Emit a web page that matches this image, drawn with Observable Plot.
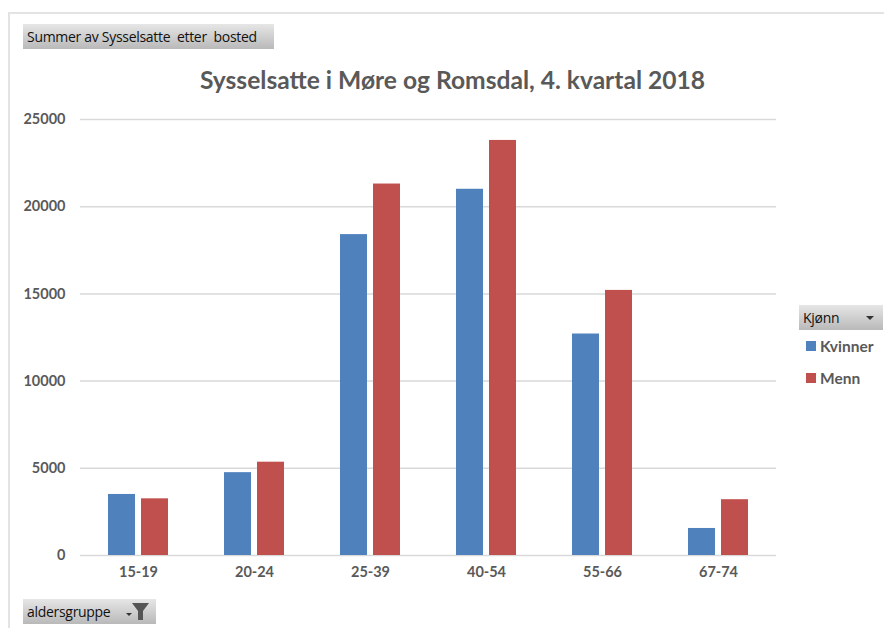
<!DOCTYPE html>
<html><head><meta charset="utf-8">
<script src="https://cdn.jsdelivr.net/npm/d3@7"></script>
<script src="https://cdn.jsdelivr.net/npm/@observablehq/plot@0.6"></script>
<style>
html,body{margin:0;padding:0;background:#fff;}
#wrap{position:relative;width:884px;height:628px;overflow:hidden;font-family:Lato,"Open Sans",sans-serif;}
#frameT{position:absolute;left:8px;top:12px;width:876px;height:2px;background:#e3e3e3;}
#frameL{position:absolute;left:8px;top:12px;width:2px;height:616px;background:#e3e3e3;}
#chart{position:absolute;left:0;top:0;}
.btn{position:absolute;height:25px;line-height:25px;background:linear-gradient(#e6e6e6,#b9b9b9);color:#111;font-family:"Open Sans",sans-serif;font-size:14px;padding-left:4px;box-sizing:border-box;white-space:nowrap;letter-spacing:-0.3px;}
h1{position:absolute;margin:0;left:0;top:65px;width:905px;text-align:center;font:700 24.6px/30px Lato,sans-serif;color:#595959;}
.leg{position:absolute;left:806px;font:700 15.5px/18px Lato,sans-serif;color:#595959;padding-left:14px;}
.sw{position:absolute;left:0;top:4px;width:10px;height:10px;}
.caret{position:absolute;width:0;height:0;border-left:4px solid transparent;border-right:4px solid transparent;border-top:4px solid #333;}
</style></head><body>
<div id="wrap">
<div id="chart"></div>
<div id="frameT"></div><div id="frameL"></div>
<h1 id="title"></h1>
<div class="btn" style="left:23px;top:24px;width:251px;">Summer av Sysselsatte&nbsp; etter&nbsp; bosted</div>
<div class="btn" style="left:23px;top:599px;width:133px;">aldersgruppe
<span class="caret" style="left:103px;top:14px;border-width:3px 3px 0 3px;"></span>
<svg style="position:absolute;left:109px;top:4px" width="18" height="17" viewBox="0 0 18 17"><path d="M0 0H17L11 8V17H6V8Z" fill="#555"/></svg></div>
<div class="btn" style="left:799px;top:305px;width:84px;">Kjønn<span class="caret" style="left:67px;top:11px;"></span></div>
<div id="legend"></div>
</div>
<script>
const titleText = "Sysselsatte i Møre og Romsdal, 4. kvartal 2018";
const ageGroups = ["15-19","20-24","25-39","40-54","55-66","67-74"];
const genders = ["Kvinner","Menn"];
const kvinner = [3500,4750,18400,21000,12700,1550];
const menn = [3250,5350,21300,23800,15200,3200];
const colors = ["#4f81bd","#c0504d"];
const yTicks = [0,5000,10000,15000,20000,25000];

const rows = ageGroups.flatMap((a,i)=>[
  {age:a,gender:genders[0],value:kvinner[i]},
  {age:a,gender:genders[1],value:menn[i]}
]);

document.getElementById("title").textContent = titleText;
const legend = document.getElementById("legend");
genders.forEach((g,i)=>{
  const d=document.createElement("div");
  d.className="leg"; d.style.top=(337+i*32)+"px"; d.textContent=g;
  const s=document.createElement("span");
  s.className="sw"; s.style.background=colors[i]; d.appendChild(s);
  legend.appendChild(d);
});

const plot = Plot.plot({
  width:884,height:628,
  marginLeft:79,marginRight:106.5,marginTop:119,marginBottom:73,
  style:{fontFamily:"Lato,sans-serif",fontSize:"14.5px",fontWeight:700,color:"#595959",background:"transparent"},
  fx:{domain:ageGroups,padding:0,label:null,tickSize:0,tickPadding:11},
  x:{domain:genders,paddingInner:0.194,paddingOuter:0.833,axis:null},
  y:{domain:[0,25000],ticks:yTicks,label:null,tickSize:0,tickPadding:15,tickFormat:d=>String(d)},
  color:{domain:genders,range:colors},
  marks:[
    Plot.ruleY(yTicks,{stroke:"#d9d9d9",strokeWidth:1.5,strokeOpacity:1}),
    Plot.axisY({ticks:yTicks,tickSize:0,tickPadding:15,label:null,tickFormat:d=>String(d)}),
    Plot.barY(rows,{fx:"age",x:"gender",y:"value",fill:"gender"})
  ]
});
document.getElementById("chart").appendChild(plot);
</script>
</body></html>
